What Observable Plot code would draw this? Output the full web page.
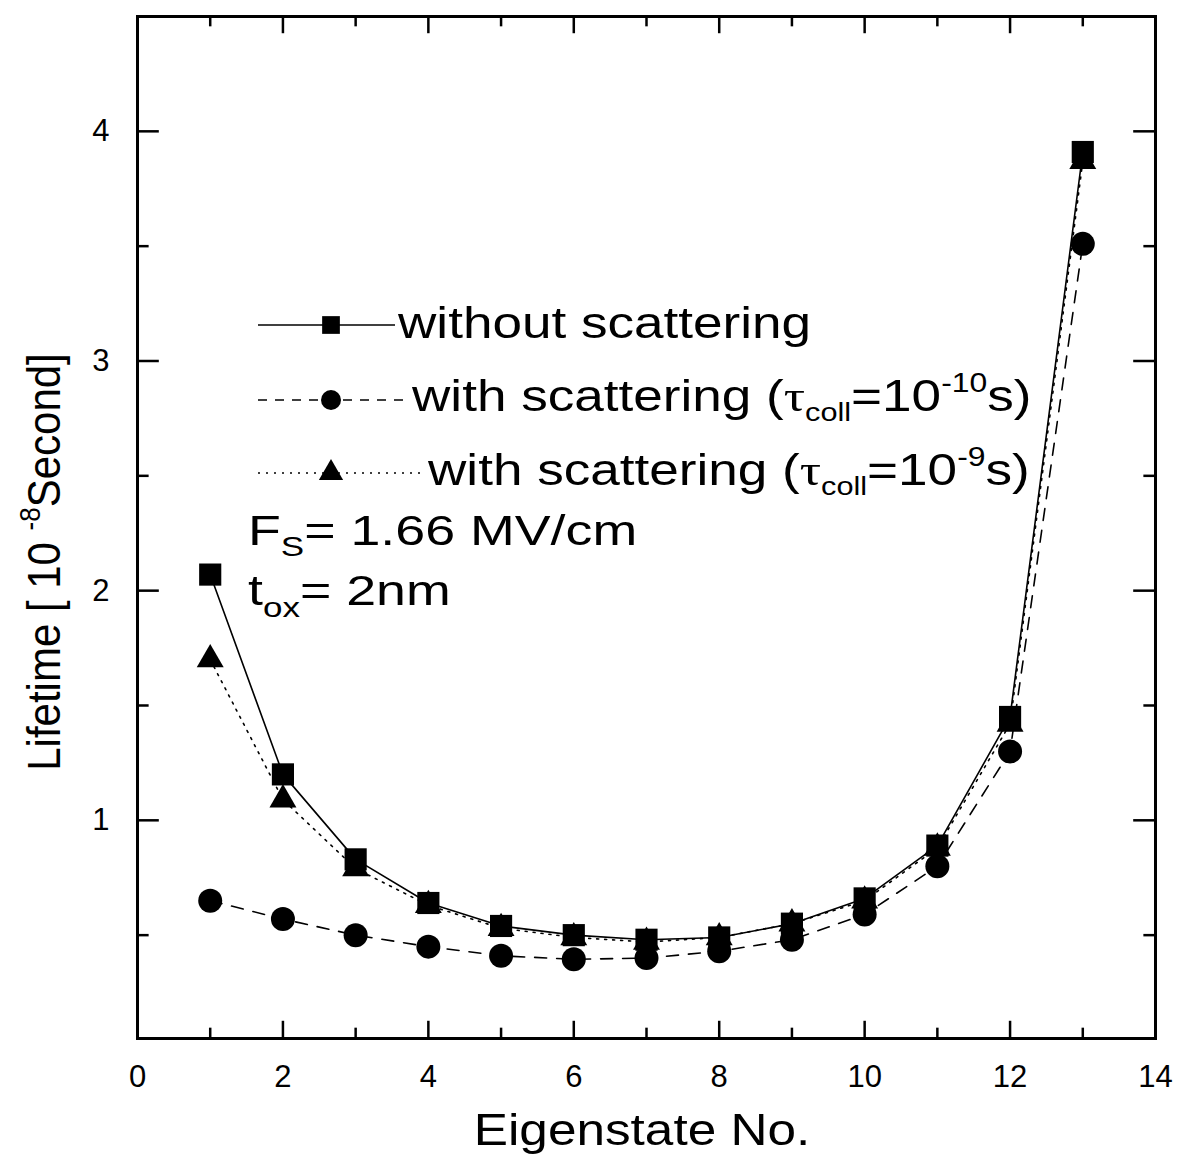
<!DOCTYPE html>
<html><head><meta charset="utf-8">
<script src="https://cdn.jsdelivr.net/npm/d3@7"></script>
<script src="https://cdn.jsdelivr.net/npm/@observablehq/plot@0.6"></script>
<style>body{margin:0;background:#fff} svg{display:block}</style>
</head><body><div id="chart"></div>
<script>
// ---- data ----
const eigenstates = [1, 2, 3, 4, 5, 6, 7, 8, 9, 10, 11, 12, 13];
const withoutScattering = [2.07, 1.20, 0.83, 0.64, 0.54, 0.50, 0.48, 0.49, 0.55, 0.66, 0.89, 1.45, 3.91];
const withScatteringTau10 = [0.65, 0.57, 0.50, 0.45, 0.41, 0.395, 0.40, 0.43, 0.48, 0.59, 0.80, 1.30, 3.51];
const withScatteringTau9 = [1.70, 1.09, 0.79, 0.63, 0.53, 0.49, 0.47, 0.49, 0.55, 0.65, 0.88, 1.42, 3.87];
const xTicks = [0, 2, 4, 6, 8, 10, 12, 14];
const xMinorTicks = [1, 3, 5, 7, 9, 11, 13];
const yTicks = [1, 2, 3, 4];
const yMinorTicks = [0.5, 1.5, 2.5, 3.5];
const seriesNames = ["without scattering", "tau=1e-10", "tau=1e-9"];

const rows = [];
eigenstates.forEach((e, i) => {
  rows.push({n: e, v: withoutScattering[i], s: seriesNames[0]});
  rows.push({n: e, v: withScatteringTau10[i], s: seriesNames[1]});
  rows.push({n: e, v: withScatteringTau9[i], s: seriesNames[2]});
});
const bySeries = name => rows.filter(d => d.s === name);

const FONT = "Liberation Sans, Arial, Helvetica, sans-serif";
const X0 = 0, X1 = 14, Y0 = 0.05, Y1 = 4.5;

const plot = Plot.plot({
  width: 1189,
  height: 1157,
  marginLeft: 137,
  marginRight: 34,
  marginTop: 16,
  marginBottom: 119,
  style: {fontFamily: FONT, background: "white", color: "black"},
  x: {domain: [X0, X1]},
  y: {domain: [Y0, Y1]},
  marks: [
    // ticks (inward)
    Plot.ruleY(yTicks, {y: d => d, x1: X0, x2: X0 + 0.3, strokeWidth: 2.5}),
    Plot.ruleY(yMinorTicks, {y: d => d, x1: X0, x2: X0 + 0.16, strokeWidth: 2.5}),
    Plot.ruleY(yTicks, {y: d => d, x1: X1, x2: X1 - 0.3, strokeWidth: 2.5}),
    Plot.ruleY(yMinorTicks, {y: d => d, x1: X1, x2: X1 - 0.16, strokeWidth: 2.5}),
    Plot.ruleX(xTicks.slice(1, -1), {x: d => d, y1: Y0, y2: Y0 + 0.075, strokeWidth: 2.5}),
    Plot.ruleX(xMinorTicks, {x: d => d, y1: Y0, y2: Y0 + 0.045, strokeWidth: 2.5}),
    Plot.ruleX(xTicks.slice(1, -1), {x: d => d, y1: Y1, y2: Y1 - 0.075, strokeWidth: 2.5}),
    Plot.ruleX(xMinorTicks, {x: d => d, y1: Y1, y2: Y1 - 0.045, strokeWidth: 2.5}),
    Plot.frame({stroke: "black", strokeWidth: 3}),
    // series lines
    Plot.line(bySeries(seriesNames[0]), {x: "n", y: "v", stroke: "black", strokeWidth: 1.6}),
    Plot.line(bySeries(seriesNames[1]), {x: "n", y: "v", stroke: "black", strokeWidth: 1.6, strokeDasharray: "12,10"}),
    Plot.line(bySeries(seriesNames[2]), {x: "n", y: "v", stroke: "black", strokeWidth: 1.6, strokeDasharray: "2,6"}),
    // markers
    Plot.dot(bySeries(seriesNames[1]), {x: "n", y: "v", symbol: "circle", r: 12, fill: "black"}),
    Plot.dot(bySeries(seriesNames[2]), {x: "n", y: "v", symbol: "triangle", r: 10, fill: "black"}),
    Plot.dot(bySeries(seriesNames[0]), {x: "n", y: "v", symbol: "square", r: 12.5, fill: "black"}),
    // axes
    Plot.axisX({ticks: xTicks, tickSize: 0, tickPadding: 26, fontSize: 31, label: null, tickFormat: d3.format("d")}),
    Plot.axisY({ticks: yTicks, tickSize: 0, tickPadding: 28, fontSize: 31, label: null, tickFormat: d3.format("d")})
  ]
});
document.getElementById("chart").appendChild(plot);

// ---- legend and annotations (text with sub/superscripts) ----
const svg = d3.select(plot);
function addText(x, y, parts, size, sx, rotate, anchor) {
  const g = svg.append("g")
    .attr("transform", `translate(${x},${y}) scale(${sx},1)` + (rotate ? ` rotate(${rotate})` : ""));
  const t = g.append("text").attr("font-family", FONT).attr("font-size", size).attr("fill", "black")
    .attr("text-anchor", anchor || "start");
  parts.forEach(p => {
    const ts = t.append("tspan").text(p.t);
    if (p.dy) ts.attr("dy", p.dy);
    if (p.size) ts.attr("font-size", p.size);
    if (p.family) ts.attr("font-family", p.family);
  });
}
const sym = (type, r) => d3.symbol().type(type).size(Math.PI * r * r)();

// legend rows
const legend = [
  {y: 325, x2: 395, dash: null, type: d3.symbolSquare, r: 10},
  {y: 400, x2: 405, dash: "9,8", type: d3.symbolCircle, r: 10},
  {y: 473, x2: 420, dash: "2,6", type: d3.symbolTriangle, r: 9}
];
legend.forEach(l => {
  svg.append("line").attr("x1", 258).attr("x2", l.x2).attr("y1", l.y).attr("y2", l.y)
    .attr("stroke", "black").attr("stroke-width", 1.6).attr("stroke-dasharray", l.dash);
  svg.append("path").attr("d", sym(l.type, l.r)).attr("transform", `translate(331,${l.y})`).attr("fill", "black");
});
const LSX = 1.18;
addText(398, 338, [{t: "without scattering"}], 45, LSX);
addText(412, 411, [
  {t: "with scattering ("},
  {t: "τ", family: "Liberation Serif, Times New Roman, serif"},
  {t: "coll", size: 26, dy: 10},
  {t: "=10", dy: -10},
  {t: "-10", size: 27, dy: -19},
  {t: "s)", dy: 19}
], 45, LSX);
addText(428, 485, [
  {t: "with scattering ("},
  {t: "τ", family: "Liberation Serif, Times New Roman, serif"},
  {t: "coll", size: 26, dy: 10},
  {t: "=10", dy: -10},
  {t: "-9", size: 27, dy: -19},
  {t: "s)", dy: 19}
], 45, LSX);
addText(248, 545, [
  {t: "F"},
  {t: "S", size: 28, dy: 11},
  {t: "= 1.66 MV/cm", dy: -11}
], 43, 1.25);
addText(248, 605, [
  {t: "t"},
  {t: "ox", size: 28, dy: 12},
  {t: "= 2nm", dy: -12}
], 43, 1.25);
// x-axis title
addText(642, 1145, [{t: "Eigenstate No."}], 45, 1.14, 0, "middle");
// y-axis title
addText(60, 562, [
  {t: "Lifetime [ 10 "},
  {t: "-8", size: 26, dy: -18},
  {t: "Second]", dy: 18}
], 42, 1.1, -90, "middle");
</script>
</body></html>
